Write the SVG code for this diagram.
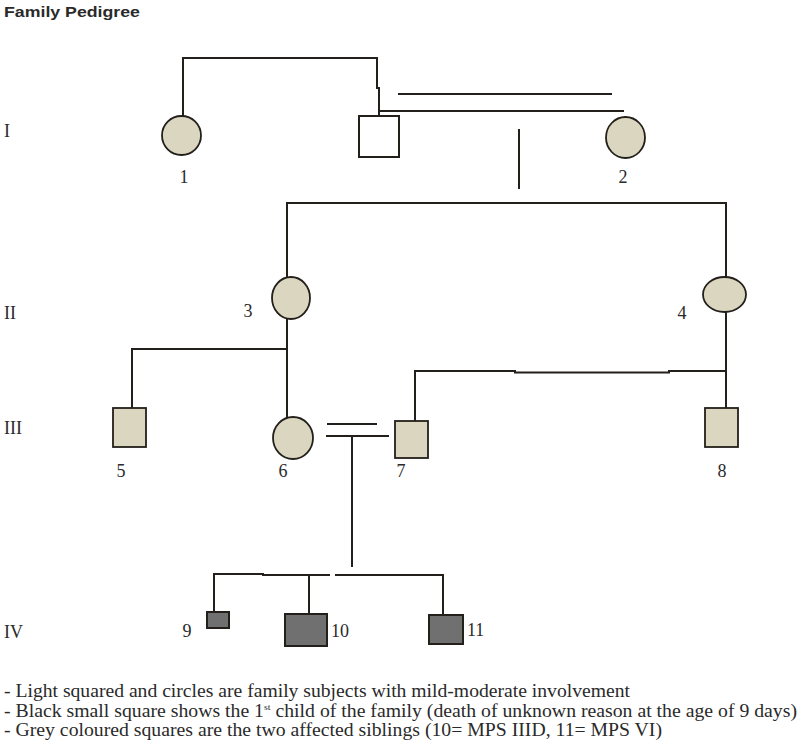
<svg xmlns="http://www.w3.org/2000/svg" width="800" height="749" viewBox="0 0 800 749">
<style>
.bg{fill:#ffffff}
.ln{fill:none;stroke:#231f1a;stroke-width:2}
.lt{fill:#dad6c0;stroke:#231f1a;stroke-width:1.8}
.wh{fill:#ffffff;stroke:#231f1a;stroke-width:2}
.gr{fill:#707070;stroke:#231f1a;stroke-width:2}
.num{font-family:"Liberation Serif","Times New Roman",serif;font-size:18px;fill:#2a2a2a}
.gen{font-family:"Liberation Serif","Times New Roman",serif;font-size:18px;fill:#2a2a2a}
.title{font-family:"Liberation Sans",Arial,sans-serif;font-size:14px;font-weight:bold;fill:#2a2a2a}
.note{font-family:"Liberation Serif","Times New Roman",serif;font-size:18px;fill:#2a2a2a}
</style>
<rect class="bg" x="0" y="0" width="800" height="749"/>
<text class="title" x="4" y="17" textLength="136" lengthAdjust="spacingAndGlyphs">Family Pedigree</text>
<g id="generations">
<text class="gen" x="4" y="137">I</text>
<text class="gen" x="4" y="319">II</text>
<text class="gen" x="4" y="434">III</text>
<text class="gen" x="4" y="638">IV</text>
</g>
<g id="connectors">
<path class="ln" d="M183,116 V58 H377 V88 H379 V116"/>
<path class="ln" d="M398,94 H612"/>
<path class="ln" d="M379,111 H624"/>
<path class="ln" d="M519,129 V189"/>
<path class="ln" d="M287,277 V203 H726 V277"/>
<path class="ln" d="M287,318 V418"/>
<path class="ln" d="M132,408 V349 H287"/>
<path class="ln" d="M327,424 H377"/>
<path class="ln" d="M326,436 H389"/>
<path class="ln" d="M352,436 V567"/>
<path class="ln" d="M415,421 V371 H515 V372.5 H669 V371 H726"/>
<path class="ln" d="M726,312 V408"/>
<path class="ln" d="M214,612 V574 H263 V575 H330"/>
<path class="ln" d="M335,575 H443 V615"/>
<path class="ln" d="M309,575 V614"/>
</g>
<g id="node1"><ellipse class="lt" cx="181.5" cy="135.5" rx="19.5" ry="19.5"/><text class="num" x="184" y="183" text-anchor="middle">1</text></g>
<g id="nodeI-male"><rect class="wh" x="359" y="116" width="40" height="41"/></g>
<g id="node2"><ellipse class="lt" cx="625.5" cy="137.5" rx="19.5" ry="20.5"/><text class="num" x="623" y="183" text-anchor="middle">2</text></g>
<g id="node3"><ellipse class="lt" cx="291" cy="298" rx="19" ry="21"/><text class="num" x="248" y="317" text-anchor="middle">3</text></g>
<g id="node4"><ellipse class="lt" cx="724.5" cy="294.5" rx="21.5" ry="17.5"/><text class="num" x="682" y="319" text-anchor="middle">4</text></g>
<g id="node5"><rect class="lt" x="113" y="408" width="33" height="39"/><text class="num" x="121" y="477" text-anchor="middle">5</text></g>
<g id="node6"><ellipse class="lt" cx="293" cy="438" rx="20" ry="21"/><text class="num" x="283" y="477" text-anchor="middle">6</text></g>
<g id="node7"><rect class="lt" x="395" y="421" width="33" height="37"/><text class="num" x="401" y="477" text-anchor="middle">7</text></g>
<g id="node8"><rect class="lt" x="705" y="408" width="33" height="39"/><text class="num" x="722" y="477" text-anchor="middle">8</text></g>
<g id="node9"><rect class="gr" x="207" y="612" width="22" height="16"/><text class="num" x="187" y="637" text-anchor="middle">9</text></g>
<g id="node10"><rect class="gr" x="285" y="614" width="42" height="32"/><text class="num" x="331" y="637">10</text></g>
<g id="node11"><rect class="gr" x="429" y="615" width="34" height="29"/><text class="num" x="467" y="636">11</text></g>
<g id="legend">
<text class="note" x="4" y="697" textLength="626" lengthAdjust="spacingAndGlyphs">- Light squared and circles are family subjects with mild-moderate involvement</text>
<text class="note" x="4" y="717" textLength="793" lengthAdjust="spacingAndGlyphs">- Black small square shows the 1<tspan font-size="9" dy="-7">st</tspan><tspan dy="7"> child of the family (death of unknown reason at the age of 9 days)</tspan></text>
<text class="note" x="4" y="736" textLength="658" lengthAdjust="spacingAndGlyphs">- Grey coloured squares are the two affected siblings (10= MPS IIID, 11= MPS VI)</text>
</g>
</svg>
